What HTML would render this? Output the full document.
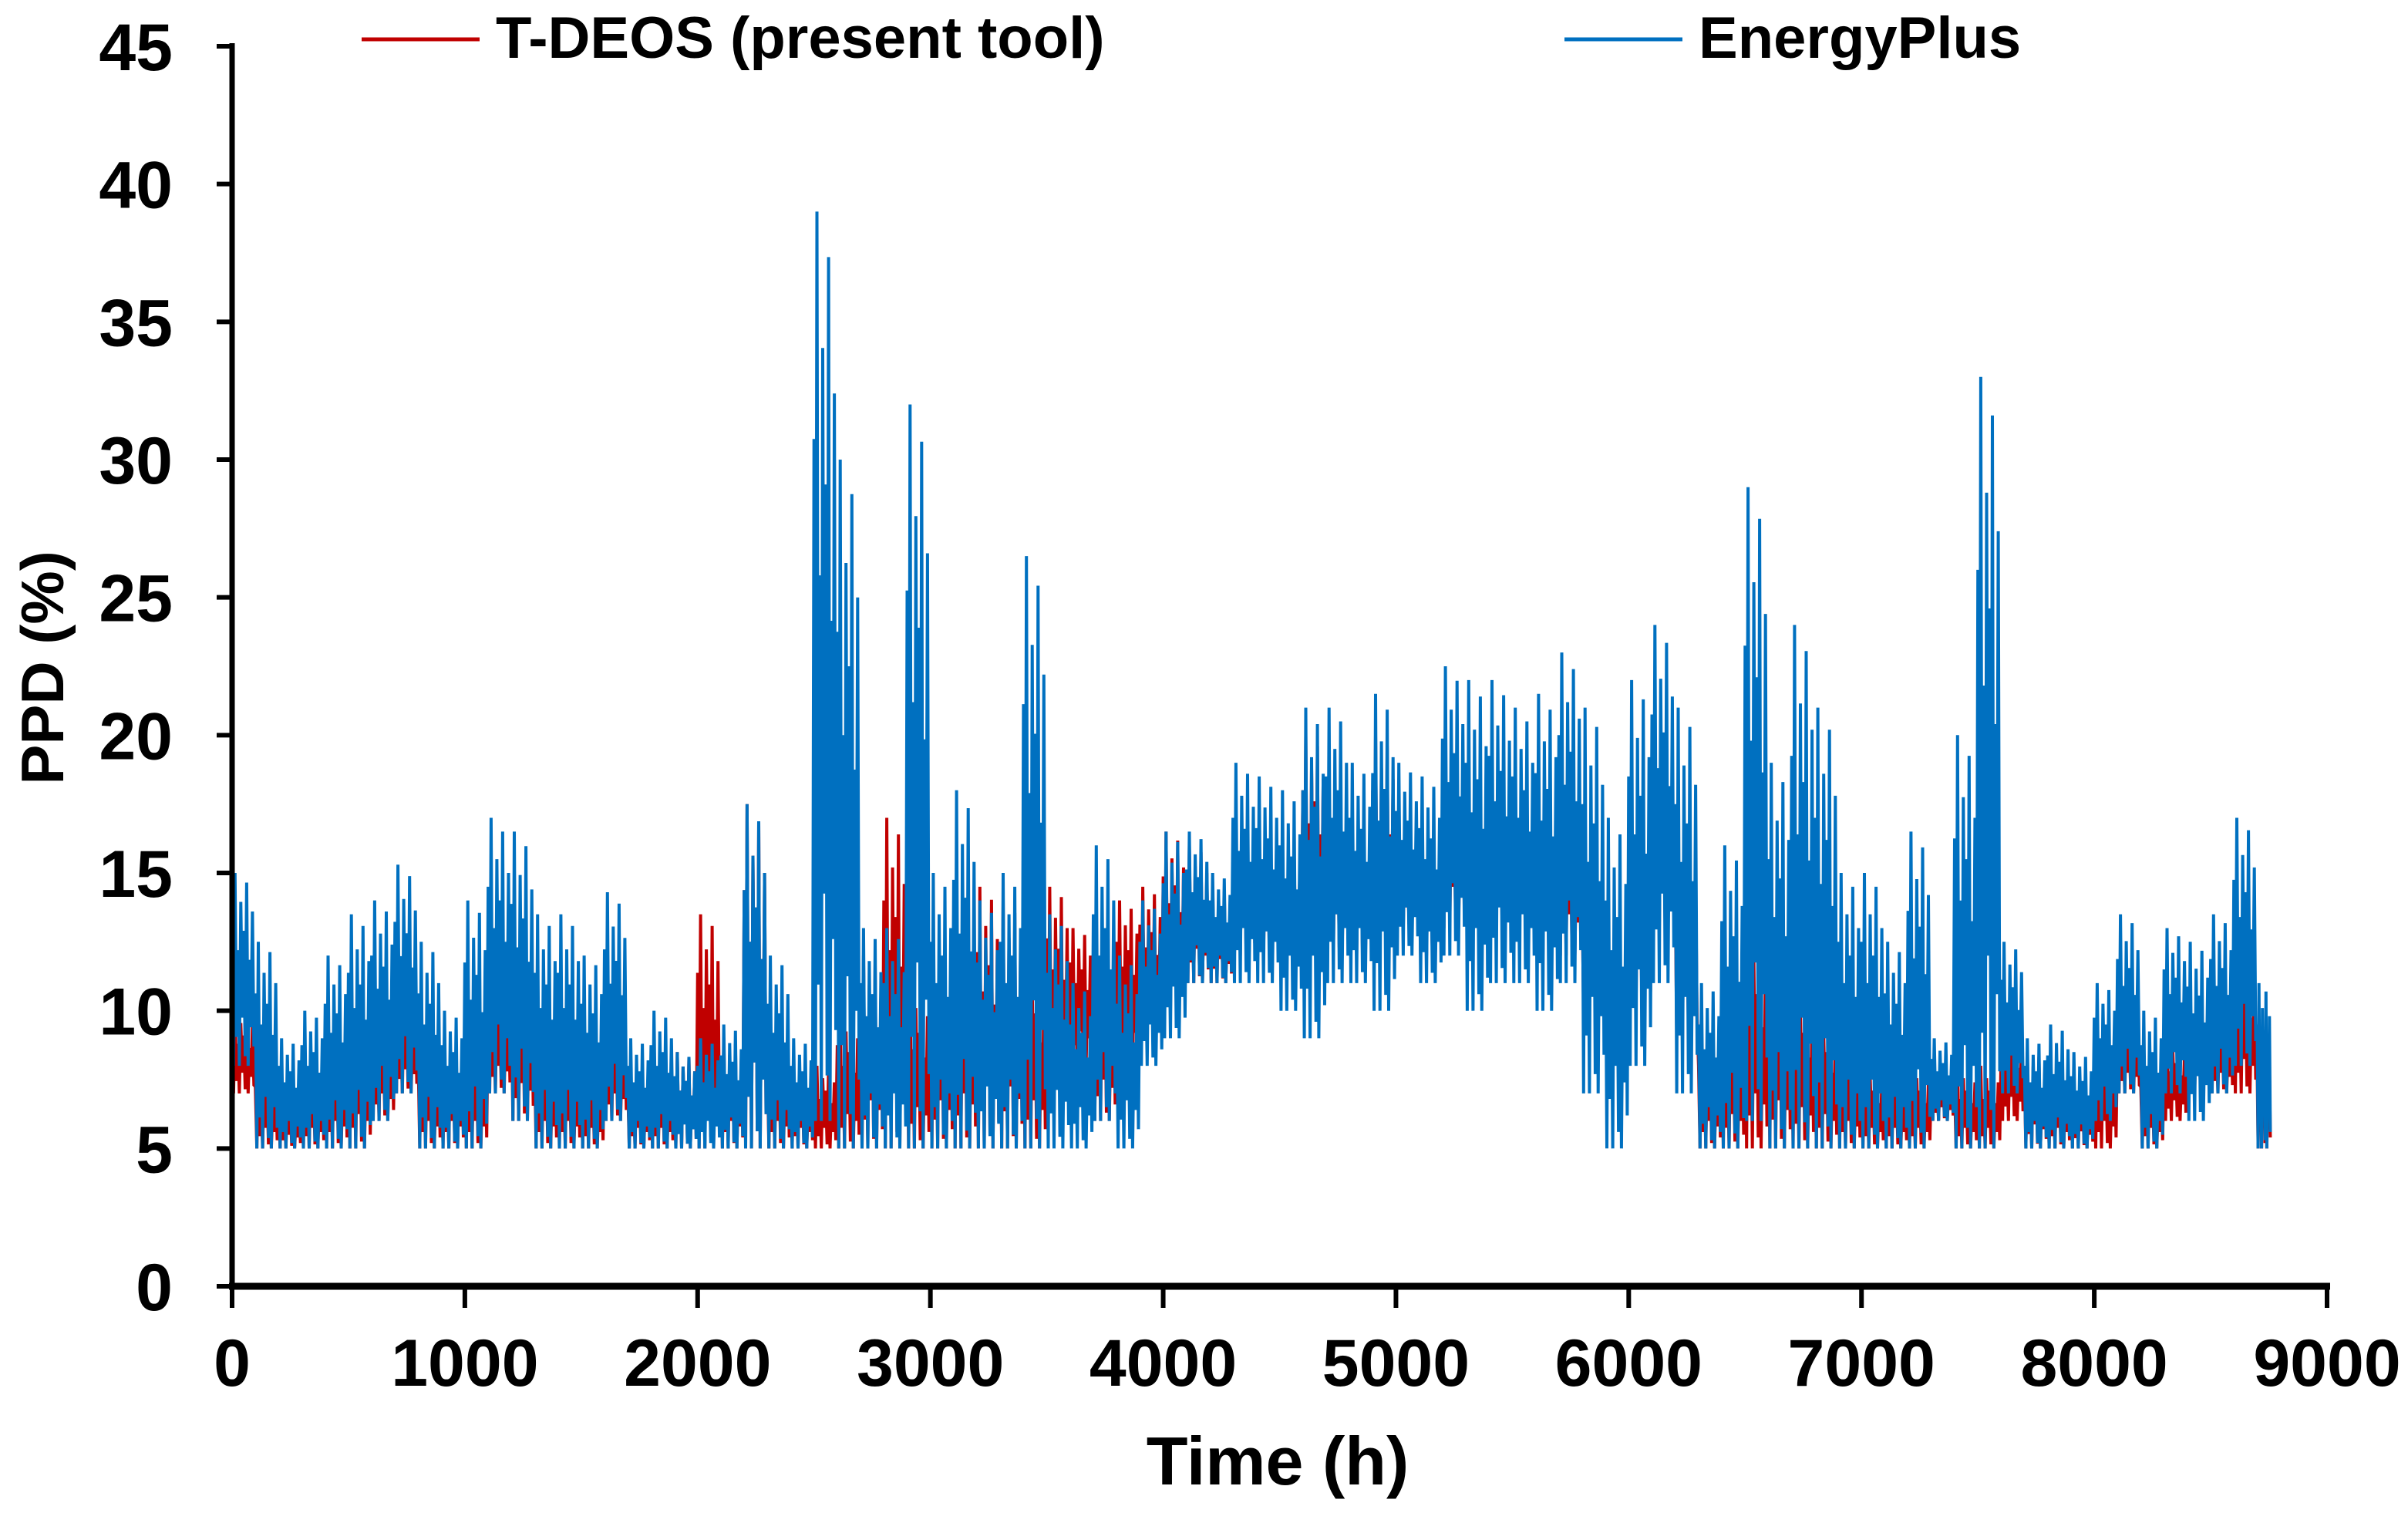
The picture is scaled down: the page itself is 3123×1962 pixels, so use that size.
<!DOCTYPE html>
<html><head><meta charset="utf-8"><style>
html,body{margin:0;padding:0;background:#fff;}
svg{display:block;font-family:"Liberation Sans",Arial,sans-serif;font-weight:bold;}
</style></head><body>
<svg id="chart" width="3123" height="1962" viewBox="0 0 3123 1962">
<g id="series"></g>
<g id="axes"></g>
<g>
  <line x1="469" y1="51" x2="622" y2="51" stroke="#C00000" stroke-width="5"/>
  <text x="643" y="75" font-size="76">T-DEOS (present tool)</text>
  <line x1="2029" y1="51" x2="2182" y2="51" stroke="#0070C0" stroke-width="5"/>
  <text x="2203" y="75" font-size="76">EnergyPlus</text>
</g>
<text x="1657" y="1925" font-size="88" text-anchor="middle">Time (h)</text>
<text transform="translate(82,866) rotate(-90)" font-size="78" text-anchor="middle">PPD (%)</text>
</svg>
<script>
const binStart = [0,100,200,300,400,500,600,700,800,900,1000,1100,1200,1300,1400,1500,1600,1700,1800,1900,2000,2100,2200,2300,2400,2500,2600,2700,2800,2900,3000,3100,3200,3300,3400,3500,3600,3700,3800,3900,4000,4100,4200,4300,4400,4500,4600,4700,4800,4900,5000,5100,5200,5300,5400,5500,5600,5700,5800,5900,6000,6100,6200,6300,6400,6500,6600,6700,6800,6900,7000,7100,7200,7300,7400,7500,7600,7700,7800,7900,8000,8100,8200,8300,8400,8500,8600,8700];
const energyPlusHigh = [15,12.5,9,10,12,13.5,14,15.3,12.5,10,14,17,16.5,13.5,13.5,12,14.3,9,10,8.5,9,9.5,17.5,12,9,39,30,13,13,32,15,18,14,15,26.5,13.5,11,16,12,14,16.5,16.5,15,19,18.5,18,21,21,19,21.5,19,18.5,22.5,22,22,21,21.5,23,21,17,22,24,21,11,16,29,19,24,21,15,15,12.5,16.5,9,20,33,12.5,9,9.5,8.5,11,13.5,10,13,12.5,13.5,17,11];
const energyPlusLow = [8,5,5,5,5,5,6,7,5,5,5,7,6,5,5,5,6,5,5,5,5,5,5,5,5,6,5,5,5,5,5,5,5,5,5,5,5,6,5,8,9,11,11,11,11,10,9,11,11,10,12,11,12,10,11,11,10,11,7,5,8,11,7,5,5,6,5,5,5,5,5,5,5,6,5,5,7,5,5,5,6,7,5,7,6,7,8,5];
const tdeosHigh = [10,8,7,8,9,10,10,10.5,9,9,9,11,11.5,9,9,8,10,8,8,8.5,13.5,9,17.5,9,8,8,10,12,17,11,12,13,14.5,14,12,14.5,13,12,14,14.5,16.5,16,14.5,16.5,16,16,20,18,17,20,16,16,19,17,17,18,17,18,15,13,17,18.5,16,9,10,13,12,11,10,9,8,8,8,8,8,8,9.5,8.5,8,7.5,9,10,8,9,10,10,12,9];
const tdeosLow = [7,5,5,5,5,5,6,7,5,5,5,7,6,5,5,5,6,5,5,5,5,5,5,5,5,5,5,5,5,5,5,5,5,5,5,7,8,6,8,9,10,11,11,12,12,12,12,12,12,12,13,12,13,13,13,13,12,12,10,8,10,13,9,5,5,5,5,5,5,5,5,5,5,6,5,5,6,5,5,5,5,7,5,6,7,7,7,5];
const xTicks = [0,1000,2000,3000,4000,5000,6000,7000,8000,9000];
const yTicks = [0,5,10,15,20,25,30,35,40,45];
const lastHour = 8760;

const X0 = 301, X1 = 3018, Y0 = 1668, Y1 = 60;
function xs(h){ return X0 + h/9000*(X1-X0); }
function ys(v){ return Y0 - v/45*(Y0-Y1); }
const NS = 'http://www.w3.org/2000/svg';
const seriesG = document.getElementById('series');
const axesG = document.getElementById('axes');
// rendering style: relative heights of the oscillation peaks inside each bin
const peakShape = [0.75,1,0.6,0.85,0.7,0.95,0.55,0.8];
const troughShape = [0,0.15,0,0.25,0.05,0,0.2,0.1];

function drawSeries(hi, lo, color, name){
  let pts = [];
  const osc = peakShape.length;
  for (let i=0;i<binStart.length;i++){
    const end = (i+1<binStart.length)? binStart[i+1] : lastHour;
    const w = (end - binStart[i]) / osc;
    for (let k=0;k<osc;k++){
      const pv = lo[i] + (hi[i]-lo[i])*peakShape[k];
      const tv = lo[i] + (hi[i]-lo[i])*troughShape[k];
      pts.push(xs(binStart[i]+w*k).toFixed(1)+','+ys(pv).toFixed(1));
      pts.push(xs(binStart[i]+w*(k+0.5)).toFixed(1)+','+ys(tv).toFixed(1));
    }
  }
  const pl = document.createElementNS(NS,'polyline');
  pl.setAttribute('points', pts.join(' '));
  pl.setAttribute('fill','none');
  pl.setAttribute('stroke',color);
  pl.setAttribute('stroke-width','4');
  pl.setAttribute('stroke-linejoin','miter');
  
  
  seriesG.appendChild(pl);
}
drawSeries(tdeosHigh, tdeosLow, '#C00000', 'tdeos-series-line');
drawSeries(energyPlusHigh, energyPlusLow, '#0070C0', 'energyplus-series-line');

function line(x1,y1,x2,y2,w,name){
  const l = document.createElementNS(NS,'line');
  l.setAttribute('x1',x1); l.setAttribute('y1',y1); l.setAttribute('x2',x2); l.setAttribute('y2',y2);
  l.setAttribute('stroke','#000'); l.setAttribute('stroke-width',w);
  
  
  axesG.appendChild(l);
}
line(X0, Y1-4, X0, Y0+4, 7, 'y-axis-line');
line(X0-4, Y0, X1+4, Y0, 9, 'x-axis-line');
yTicks.forEach(v=>{
  line(X0-20, ys(v), X0, ys(v), 6, 'y-tick');
  const t = document.createElementNS(NS,'text');
  t.setAttribute('x', 224); t.setAttribute('y', ys(v)+31);
  t.setAttribute('text-anchor','end'); t.setAttribute('font-size','86');
  t.textContent = v;
  
  
  axesG.appendChild(t);
});
xTicks.forEach(h=>{
  line(xs(h), Y0, xs(h), Y0+28, 6, 'x-tick');
  const t = document.createElementNS(NS,'text');
  t.setAttribute('x', xs(h)); t.setAttribute('y', 1797);
  t.setAttribute('text-anchor','middle'); t.setAttribute('font-size','86');
  t.textContent = h;
  
  
  axesG.appendChild(t);
});
</script>
</body></html>
